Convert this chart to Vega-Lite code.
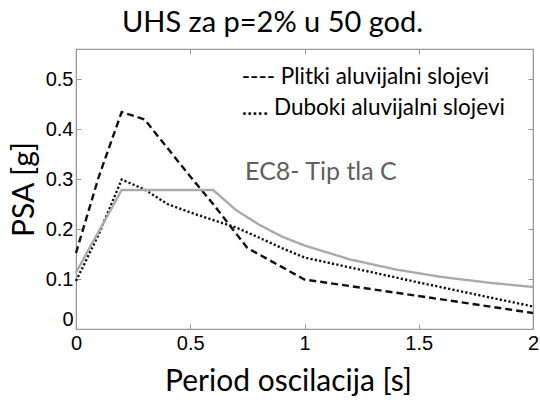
{
  "$schema": "https://vega.github.io/schema/vega-lite/v6.json",
  "autosize": "none",
  "width": 457,
  "height": 280,
  "padding": {"left": 76, "top": 49, "right": 7, "bottom": 73},
  "background": "white",
  "config": {
    "view": {"stroke": "#999999", "strokeWidth": 1.2},
    "axis": {
      "domainColor": "#999999",
      "tickColor": "#999999",
      "grid": false,
      "labelFont": "Liberation Sans",
      "labelFontSize": 20,
      "labelColor": "#000000",
      "titleFont": "Lato",
      "titleFontSize": 30,
      "titleFontWeight": "normal",
      "titleColor": "#000000",
      "format": "~g"
    }
  },
  "title": {
    "text": "UHS za p=2% u 50 god.",
    "font": "Lato",
    "fontSize": 29,
    "fontWeight": "normal",
    "color": "#000000",
    "anchor": "middle",
    "offset": 11,
    "dx": -32
  },
  "datasets": {
    "curves": [
      {"T": 0.0, "psa": 0.152, "series": "Plitki"},
      {"T": 0.1, "psa": 0.305, "series": "Plitki"},
      {"T": 0.2, "psa": 0.434, "series": "Plitki"},
      {"T": 0.3, "psa": 0.419, "series": "Plitki"},
      {"T": 0.4, "psa": 0.362, "series": "Plitki"},
      {"T": 0.5, "psa": 0.305, "series": "Plitki"},
      {"T": 0.6, "psa": 0.25, "series": "Plitki"},
      {"T": 0.75, "psa": 0.162, "series": "Plitki"},
      {"T": 1.0, "psa": 0.099, "series": "Plitki"},
      {"T": 1.5, "psa": 0.066, "series": "Plitki"},
      {"T": 2.0, "psa": 0.032, "series": "Plitki"},
      {"T": 0.0, "psa": 0.096, "series": "Duboki"},
      {"T": 0.1, "psa": 0.19, "series": "Duboki"},
      {"T": 0.2, "psa": 0.299, "series": "Duboki"},
      {"T": 0.3, "psa": 0.279, "series": "Duboki"},
      {"T": 0.4, "psa": 0.25, "series": "Duboki"},
      {"T": 0.5, "psa": 0.233, "series": "Duboki"},
      {"T": 0.6, "psa": 0.218, "series": "Duboki"},
      {"T": 0.7, "psa": 0.203, "series": "Duboki"},
      {"T": 0.8, "psa": 0.183, "series": "Duboki"},
      {"T": 0.9, "psa": 0.162, "series": "Duboki"},
      {"T": 1.0, "psa": 0.143, "series": "Duboki"},
      {"T": 1.25, "psa": 0.118, "series": "Duboki"},
      {"T": 1.5, "psa": 0.093, "series": "Duboki"},
      {"T": 1.75, "psa": 0.069, "series": "Duboki"},
      {"T": 2.0, "psa": 0.045, "series": "Duboki"},
      {"T": 0.0, "psa": 0.113, "series": "EC8"},
      {"T": 0.2, "psa": 0.278, "series": "EC8"},
      {"T": 0.6, "psa": 0.278, "series": "EC8"},
      {"T": 0.7, "psa": 0.238, "series": "EC8"},
      {"T": 0.8, "psa": 0.209, "series": "EC8"},
      {"T": 0.9, "psa": 0.185, "series": "EC8"},
      {"T": 1.0, "psa": 0.167, "series": "EC8"},
      {"T": 1.2, "psa": 0.139, "series": "EC8"},
      {"T": 1.4, "psa": 0.119, "series": "EC8"},
      {"T": 1.6, "psa": 0.104, "series": "EC8"},
      {"T": 1.8, "psa": 0.093, "series": "EC8"},
      {"T": 2.0, "psa": 0.084, "series": "EC8"}
    ],
    "notes": [
      {"T": 0.725, "psa": 0.505, "label": "---- Plitki aluvijalni slojevi"},
      {"T": 0.725, "psa": 0.442, "label": "..... Duboki aluvijalni slojevi"}
    ],
    "ec8": [
      {"T": 0.74, "psa": 0.315, "label": "EC8- Tip tla C"}
    ]
  },
  "layer": [
    {
      "data": {"name": "curves"},
      "mark": {"type": "line", "strokeWidth": 2.4},
      "encoding": {
        "x": {
          "field": "T", "type": "quantitative",
          "scale": {"domain": [0, 2], "nice": false},
          "axis": {"orient": "bottom", "title": "Period oscilacija [s]", "values": [0, 0.5, 1, 1.5, 2],
                   "tickSize": -5, "labelPadding": 9, "titlePadding": 13, "labelFlush": false, "titleX": 212}
        },
        "y": {
          "field": "psa", "type": "quantitative",
          "scale": {"domain": [0, 0.56], "nice": false},
          "axis": {"orient": "left", "title": "PSA [g]", "values": [0, 0.1, 0.2, 0.3, 0.4, 0.5],
                   "tickSize": -5, "labelPadding": 8, "titlePadding": 6, "labelFlush": true, "labelFlushOffset": 0}
        },
        "detail": {"field": "series"},
        "color": {
          "field": "series", "type": "nominal",
          "scale": {"domain": ["Plitki", "Duboki", "EC8"], "range": ["#111111", "#111111", "#aaaaaa"]},
          "legend": null
        },
        "strokeDash": {
          "field": "series", "type": "nominal",
          "scale": {"domain": ["Plitki", "Duboki", "EC8"], "range": [[7, 4], [2.2, 2.2], [1, 0]]},
          "legend": null
        },
        "strokeWidth": {
          "field": "series", "type": "nominal",
          "scale": {"domain": ["Plitki", "Duboki", "EC8"], "range": [2.7, 2.7, 1.5]},
          "legend": null
        }
      }
    },
    {
      "data": {"name": "notes"},
      "mark": {"type": "text", "align": "left", "baseline": "middle", "font": "Lato", "fontSize": 22.5, "color": "#000000"},
      "encoding": {
        "x": {"field": "T", "type": "quantitative", "axis": {"orient": "top", "title": null, "labels": false, "tickSize": -5, "values": [0, 0.5, 1, 1.5, 2]}},
        "y": {"field": "psa", "type": "quantitative", "axis": {"orient": "right", "title": null, "labels": false, "tickSize": -5, "values": [0, 0.1, 0.2, 0.3, 0.4, 0.5]}},
        "text": {"field": "label"}
      }
    },
    {
      "data": {"name": "ec8"},
      "mark": {"type": "text", "align": "left", "baseline": "middle", "font": "Lato", "fontSize": 25, "color": "#606060"},
      "encoding": {
        "x": {"field": "T", "type": "quantitative", "axis": null},
        "y": {"field": "psa", "type": "quantitative", "axis": null},
        "text": {"field": "label"}
      }
    }
  ],
  "resolve": {"axis": {"x": "independent", "y": "independent"}}
}
